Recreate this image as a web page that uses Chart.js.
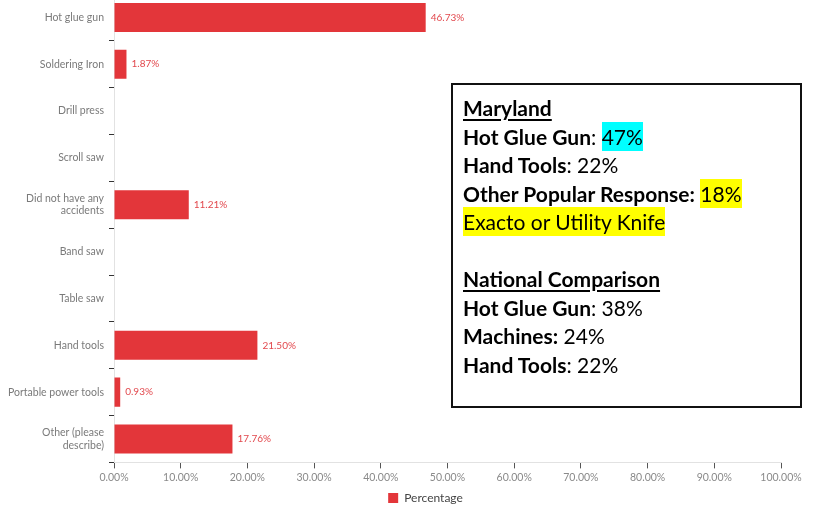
<!DOCTYPE html>
<html>
<head>
<meta charset="utf-8">
<script src="https://cdn.jsdelivr.net/npm/chart.js@4.4.1/dist/chart.umd.min.js"></script>
<style>
  html, body { margin: 0; padding: 0; background: #fff; }
  body { width: 838px; height: 508px; position: relative; overflow: hidden; }
  #wrap { position: absolute; left: -20px; top: -6px; width: 895px; height: 520px; }
  #note {
    position: absolute; left: 451px; top: 83px; width: 347px; height: 321px;
    border: 2px solid #111; box-sizing: content-box;
    font-family: Lato, "Open Sans", sans-serif; font-size: 21px; color: #000;
    line-height: 28.5px; padding: 0;
  }
  #note .in { padding: 9px 0 0 10px; }
  #note b { font-weight: 700; }
  #note .hd { font-weight: 700; text-decoration: underline; text-decoration-thickness: 2px; text-underline-offset: 3px; }
  .cy { background: #00ffff; padding: 2px 0; }
  .ye { background: #ffff00; padding: 2px 0; }
</style>
</head>
<body>
<div id="wrap"><canvas id="barChart"></canvas></div>
<div id="note"><div class="in">
  <div class="hd">Maryland</div>
  <div><b>Hot Glue Gun</b>: <span class="cy">47%</span></div>
  <div><b>Hand Tools</b>: 22%</div>
  <div><b>Other Popular Response:</b> <span class="ye">18%</span></div>
  <div><span class="ye">Exacto or Utility Knife</span></div>
  <div>&nbsp;</div>
  <div class="hd">National Comparison</div>
  <div><b>Hot Glue Gun</b>: 38%</div>
  <div><b>Machines:</b> 24%</div>
  <div><b>Hand Tools</b>: 22%</div>
</div></div>
<script>
const categories = ['Hot glue gun', 'Soldering Iron', 'Drill press', 'Scroll saw',
  ['Did not have any', 'accidents'], 'Band saw', 'Table saw', 'Hand tools',
  'Portable power tools', ['Other (please', 'describe)']];
const percentages = [46.73, 1.87, 0, 0, 11.21, 0, 0, 21.50, 0.93, 17.76];
const xTicks = [0, 10, 20, 30, 40, 50, 60, 70, 80, 90, 100];

const barColor = '#e3363a';

// value labels at the end of each bar
const valueLabels = {
  id: 'valueLabels',
  afterDatasetsDraw(chart) {
    const ctx = chart.ctx;
    const meta = chart.getDatasetMeta(0);
    ctx.save();
    ctx.font = '10px Lato, "Open Sans", sans-serif';
    ctx.fillStyle = '#e2484d';
    ctx.textBaseline = 'middle';
    ctx.textAlign = 'left';
    meta.data.forEach((bar, i) => {
      const v = percentages[i];
      if (!v) return;
      ctx.fillText(v.toFixed(2) + '%', bar.x + 5, bar.y);
    });
    ctx.restore();
  }
};

// nudge the legend a bit to the right, like the original
const legendShift = {
  id: 'legendShift',
  afterLayout(chart) {
    const lg = chart.legend;
    lg.left += 45;
    lg.right += 45;
  }
};

const config = {
  type: 'bar',
  data: {
    labels: categories,
    datasets: [{
      label: 'Percentage',
      data: percentages,
      backgroundColor: barColor,
      borderWidth: 0,
      barPercentage: 0.62,
      categoryPercentage: 1
    }]
  },
  options: {
    indexAxis: 'y',
    responsive: true,
    maintainAspectRatio: false,
    animation: false,
    layout: { padding: { top: 0, right: 94, bottom: 0, left: 0 } },
    scales: {
      x: {
        min: 0, max: 100,
        afterBuildTicks(scale) { scale.ticks = xTicks.map(v => ({ value: v })); },
        grid: { drawOnChartArea: false, drawTicks: true, tickLength: 6, color: '#555' },
        border: { color: '#e2e2e2', width: 1 },
        ticks: {
          color: '#8a8a8a',
          font: { family: 'Lato, "Open Sans", sans-serif', size: 10.5 },
          padding: 3,
          maxRotation: 0,
          callback: v => v.toFixed(2) + '%'
        }
      },
      y: {
        afterFit(scale) {
          scale.width = 134;
          scale.paddingTop = 0;
          scale.paddingBottom = 0;
        },
        grid: { offset: true, drawOnChartArea: false, tickLength: 5, color: '#333' },
        border: { color: '#e2e2e2', width: 1 },
        ticks: {
          color: '#7a7a7a',
          font: { family: 'Lato, "Open Sans", sans-serif', size: 10.5 },
          padding: 5
        }
      }
    },
    plugins: {
      legend: {
        position: 'bottom',
        labels: {
          boxWidth: 10, boxHeight: 10,
          color: '#444',
          font: { family: 'Lato, "Open Sans", sans-serif', size: 12 },
          padding: 5
        }
      },
      tooltip: { enabled: false }
    }
  },
  plugins: [valueLabels, legendShift]
};

new Chart(document.getElementById('barChart'), config);
</script>
</body>
</html>
